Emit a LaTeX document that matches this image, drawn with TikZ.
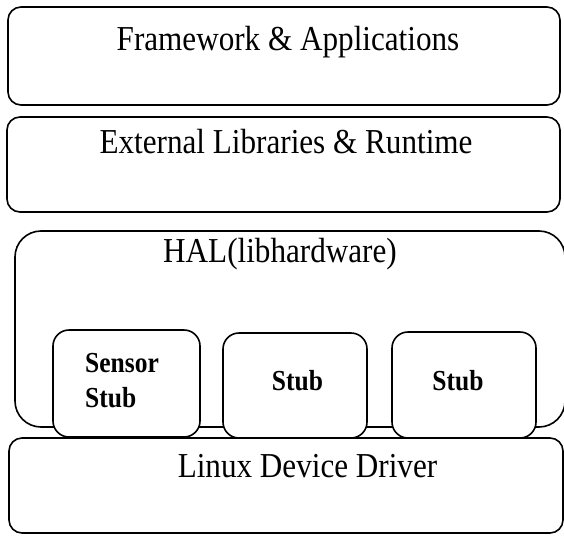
\documentclass[tikz,border=0pt]{standalone}
\usepackage{fontspec}
\setmainfont{Liberation Serif}
\newcommand{\sqzbig}[1]{\scalebox{0.89}[1]{#1}}
\newcommand{\sqzsm}[1]{\scalebox{0.88}[1]{#1}}
\tikzset{
  layer/.style={draw, line width=1.6pt, rounded corners=13pt, inner sep=0pt, outer sep=0pt, fill=white},
  stubbox/.style={draw, line width=1.6pt, rounded corners=16pt, inner sep=0pt, outer sep=0pt, fill=white},
  bigtext/.style={inner sep=0pt, anchor=base, font=\fontsize{35}{40}\selectfont},
  smtext/.style={inner sep=0pt, font=\fontsize{29}{35}\selectfont\bfseries},
}
\begin{document}
\begin{tikzpicture}[x=1pt,y=-1pt]
\useasboundingbox (0,0) rectangle (564,535);
\node[layer, minimum width=552pt, minimum height=98pt] (fw) at (284,56) {};
\node[layer, minimum width=553pt, minimum height=95pt] (ext) at (283.5,164.5) {};
\node[layer, rounded corners=26pt, minimum width=550pt, minimum height=196pt] (hal) at (290,329) {};
\node[layer, minimum width=554pt, minimum height=95pt] (lin) at (286,485.5) {};
\node[stubbox, minimum width=147pt, minimum height=107pt] (s1) at (126.5,383.5) {};
\node[stubbox, minimum width=144pt, minimum height=105pt] (s2) at (295,385.5) {};
\node[stubbox, minimum width=144pt, minimum height=106pt] (s3) at (464,385) {};
\node[bigtext] (fwt) at (288,50) {\sqzbig{Framework \& Applications}};
\node[bigtext] (extt) at (286,153) {\sqzbig{External Libraries \& Runtime}};
\node[bigtext] (halt) at (280,262) {\sqzbig{HAL(libhardware)}};
\node[bigtext] (lint) at (307.5,477) {\sqzbig{Linux Device Driver}};
\node[smtext, anchor=base west] (s1t) at (85,372) {\sqzsm{Sensor}};
\node[smtext, anchor=base west] (s1u) at (85,407) {\sqzsm{Stub}};
\node[smtext, anchor=base] (s2t) at (297.5,390) {\sqzsm{Stub}};
\node[smtext, anchor=base] (s3t) at (458,390) {\sqzsm{Stub}};
\end{tikzpicture}
\end{document}
